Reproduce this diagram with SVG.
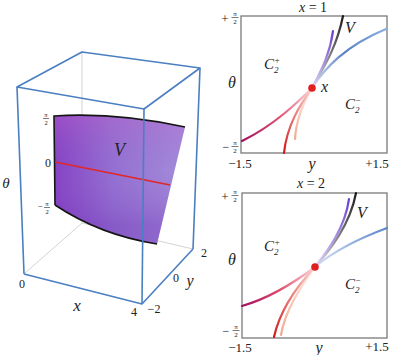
<svg xmlns="http://www.w3.org/2000/svg" width="395" height="355" viewBox="0 0 395 355">
<style>
.t{font-family:"Liberation Serif","DejaVu Serif",serif;fill:#222}
.i{font-style:italic}
.box{stroke:#4a7fc1;stroke-width:1.6;fill:none;stroke-linejoin:round}
.hid{stroke:#c8c8c8;stroke-width:0.8;fill:none}
.frame{stroke:#7a7a7a;stroke-width:1.3;fill:#fff}
.c{fill:none;stroke-width:2.2;stroke-linecap:round}
.fb{stroke:#222;stroke-width:0.6}
</style>
<defs>
<linearGradient id="surf" x1="54" y1="160" x2="185" y2="160" gradientUnits="userSpaceOnUse">
<stop offset="0" stop-color="#8642c4"/>
<stop offset="0.45" stop-color="#9470d2"/>
<stop offset="1" stop-color="#a48cda"/>
</linearGradient>
<linearGradient id="surf2" x1="54" y1="116" x2="54" y2="225" gradientUnits="userSpaceOnUse">
<stop offset="0" stop-color="#c060c8" stop-opacity="0.35"/>
<stop offset="0.5" stop-color="#9060c8" stop-opacity="0"/>
<stop offset="1" stop-color="#6a28b0" stop-opacity="0.3"/>
</linearGradient>
<linearGradient id="gk1" x1="312" y1="88" x2="343" y2="16" gradientUnits="userSpaceOnUse"><stop offset="0" stop-color="#d8d8d8"/><stop offset="1" stop-color="#1a1a1a"/></linearGradient>
<linearGradient id="gp1" x1="312" y1="88" x2="333" y2="31" gradientUnits="userSpaceOnUse"><stop offset="0" stop-color="#e0d8f4"/><stop offset="1" stop-color="#6a3fd0"/></linearGradient>
<linearGradient id="gb1" x1="312" y1="88" x2="386" y2="29" gradientUnits="userSpaceOnUse"><stop offset="0" stop-color="#dce6f6"/><stop offset="0.5" stop-color="#5a80c8"/><stop offset="1" stop-color="#8aaee0"/></linearGradient>
<linearGradient id="gc1" x1="312" y1="88" x2="242" y2="141" gradientUnits="userSpaceOnUse"><stop offset="0" stop-color="#fad8dc"/><stop offset="0.5" stop-color="#e05070"/><stop offset="1" stop-color="#a01060"/></linearGradient>
<linearGradient id="gr1" x1="312" y1="88" x2="284" y2="153" gradientUnits="userSpaceOnUse"><stop offset="0" stop-color="#fcd4d0"/><stop offset="1" stop-color="#d01818"/></linearGradient>
<linearGradient id="gs1" x1="312" y1="88" x2="295" y2="139" gradientUnits="userSpaceOnUse"><stop offset="0" stop-color="#fff0ea"/><stop offset="1" stop-color="#f4a890"/></linearGradient>
<linearGradient id="gk2" x1="315" y1="267" x2="356" y2="193" gradientUnits="userSpaceOnUse"><stop offset="0" stop-color="#d8d8d8"/><stop offset="1" stop-color="#1a1a1a"/></linearGradient>
<linearGradient id="gp2" x1="315" y1="267" x2="349" y2="199" gradientUnits="userSpaceOnUse"><stop offset="0" stop-color="#e0d8f4"/><stop offset="1" stop-color="#6a3fd0"/></linearGradient>
<linearGradient id="gb2" x1="315" y1="267" x2="387" y2="228" gradientUnits="userSpaceOnUse"><stop offset="0" stop-color="#dce6f6"/><stop offset="1" stop-color="#5a86cc"/></linearGradient>
<linearGradient id="gc2" x1="315" y1="267" x2="242" y2="306" gradientUnits="userSpaceOnUse"><stop offset="0" stop-color="#fad8dc"/><stop offset="0.5" stop-color="#e05070"/><stop offset="1" stop-color="#a01060"/></linearGradient>
<linearGradient id="gr2" x1="315" y1="267" x2="274" y2="337" gradientUnits="userSpaceOnUse"><stop offset="0" stop-color="#fcd4d0"/><stop offset="1" stop-color="#d01818"/></linearGradient>
<linearGradient id="gs2" x1="315" y1="267" x2="281" y2="335" gradientUnits="userSpaceOnUse"><stop offset="0" stop-color="#fff0ea"/><stop offset="1" stop-color="#f4a890"/></linearGradient>
</defs>

<g id="box3d">
<line class="hid" x1="82" y1="52" x2="82" y2="223"/>
<line class="hid" x1="25" y1="273" x2="82" y2="223"/>
<line class="hid" x1="82" y1="223" x2="193" y2="249"/>
<g id="surface">
<path d="M54,116 Q115,112 185,127 L157,244 Q100,235 55,205 Z" fill="url(#surf)"/>
<path d="M54,116 Q115,112 185,127 L157,244 Q100,235 55,205 Z" fill="url(#surf2)"/>
<path d="M55,205 L54,116 Q115,112 185,127" fill="none" stroke="#151515" stroke-width="1.6"/>
<path d="M55,205 Q100,235 157,244" fill="none" stroke="#151515" stroke-width="1.6"/>
<line x1="55" y1="162" x2="170" y2="185" stroke="#e02828" stroke-width="1.6"/>
<text class="t i" x="114" y="156" font-size="18">V</text>
</g>
<polygon class="box" points="17,87 82,52 200,68 144,109"/>
<line class="box" x1="17" y1="87" x2="24" y2="274"/>
<line class="box" x1="144" y1="109" x2="142" y2="304"/>
<line class="box" x1="200" y1="68" x2="193" y2="249"/>
<polyline class="box" points="24,274 142,304 193,249"/>
<text class="t" x="46" y="117" font-size="6.5" text-anchor="middle">π</text>
<line class="fb" x1="43" y1="118.5" x2="49" y2="118.5"/>
<text class="t" x="46" y="124.5" font-size="6.5" text-anchor="middle">2</text>
<text class="t" x="48" y="167" font-size="12" text-anchor="middle">0</text>
<text class="t" x="40" y="209" font-size="9" text-anchor="middle">−</text>
<text class="t" x="47" y="206" font-size="6.5" text-anchor="middle">π</text>
<line class="fb" x1="44" y1="207.5" x2="50" y2="207.5"/>
<text class="t" x="47" y="213.5" font-size="6.5" text-anchor="middle">2</text>
<text class="t i" x="6" y="188" font-size="15" text-anchor="middle">θ</text>
<text class="t" x="22" y="288" font-size="12" text-anchor="middle">0</text>
<text class="t i" x="77" y="311" font-size="17" text-anchor="middle">x</text>
<text class="t" x="134" y="316" font-size="12" text-anchor="middle">4</text>
<text class="t" x="154" y="313" font-size="12" text-anchor="middle">−2</text>
<text class="t" x="176" y="282" font-size="12" text-anchor="middle">0</text>
<text class="t i" x="190" y="286" font-size="16" text-anchor="middle">y</text>
<text class="t" x="204" y="257" font-size="12" text-anchor="middle">2</text>
</g>

<g id="panel1">
<rect class="frame" x="241" y="16" width="146" height="137"/>
<text class="t" x="313" y="12" font-size="14" text-anchor="middle"><tspan font-style="italic">x</tspan> = 1</text>
<text class="t" x="225" y="23" font-size="13" text-anchor="middle">+</text>
<text class="t" x="235" y="16" font-size="7" text-anchor="middle">π</text>
<line class="fb" x1="231.5" y1="17.5" x2="238.5" y2="17.5"/>
<text class="t" x="235" y="24" font-size="7" text-anchor="middle">2</text>
<text class="t" x="226" y="151" font-size="12" text-anchor="middle">−</text>
<text class="t" x="235" y="145" font-size="7" text-anchor="middle">π</text>
<line class="fb" x1="231.5" y1="146.5" x2="238.5" y2="146.5"/>
<text class="t" x="235" y="153" font-size="7" text-anchor="middle">2</text>
<text class="t" x="240" y="168" font-size="13" text-anchor="middle">−1.5</text>
<text class="t" x="377" y="168" font-size="13" text-anchor="middle">+1.5</text>
<text class="t i" x="312" y="169" font-size="16" text-anchor="middle">y</text>
<text class="t i" x="232" y="88" font-size="16" text-anchor="middle">θ</text>
<text class="t i" x="264" y="69" font-size="15">C<tspan font-size="9" dy="-6">+</tspan><tspan font-size="9" dx="-6" dy="10">2</tspan></text>
<text class="t i" x="345" y="109" font-size="15">C<tspan font-size="9" dy="-6">−</tspan><tspan font-size="9" dx="-6" dy="10">2</tspan></text>
<text class="t i" x="345" y="33" font-size="16">V</text>
<text class="t i" x="321" y="92" font-size="16">x</text>
</g>

<g id="panel2">
<rect class="frame" x="242" y="193" width="145" height="145"/>
<text class="t" x="311" y="188" font-size="14" text-anchor="middle"><tspan font-style="italic">x</tspan> = 2</text>
<text class="t" x="225" y="201" font-size="13" text-anchor="middle">+</text>
<text class="t" x="235" y="194" font-size="7" text-anchor="middle">π</text>
<line class="fb" x1="231.5" y1="195.5" x2="238.5" y2="195.5"/>
<text class="t" x="235" y="202" font-size="7" text-anchor="middle">2</text>
<text class="t" x="226" y="335" font-size="12" text-anchor="middle">−</text>
<text class="t" x="236" y="329" font-size="7" text-anchor="middle">π</text>
<line class="fb" x1="232.5" y1="330.5" x2="239.5" y2="330.5"/>
<text class="t" x="236" y="337" font-size="7" text-anchor="middle">2</text>
<text class="t" x="240" y="352" font-size="13" text-anchor="middle">−1.5</text>
<text class="t" x="377" y="351" font-size="13" text-anchor="middle">+1.5</text>
<text class="t i" x="319" y="353" font-size="16" text-anchor="middle">y</text>
<text class="t i" x="232" y="265" font-size="16" text-anchor="middle">θ</text>
<text class="t i" x="264" y="251" font-size="15">C<tspan font-size="9" dy="-6">+</tspan><tspan font-size="9" dx="-6" dy="10">2</tspan></text>
<text class="t i" x="345" y="289" font-size="15">C<tspan font-size="9" dy="-6">−</tspan><tspan font-size="9" dx="-6" dy="10">2</tspan></text>
<text class="t i" x="357" y="218" font-size="16">V</text>
</g>

<g id="connectors">
<path class="c" stroke="url(#gb1)" d="M312,88 C325,68 345,46 386,29"/>
<path class="c" stroke="url(#gk1)" d="M312,88 C322,70 336,50 343,16"/>
<path class="c" stroke="url(#gp1)" d="M312,88 C320,72 330,55 333,31"/>
<path class="c" stroke="url(#gc1)" d="M312,88 C300,100 275,125 242,141"/>
<path class="c" stroke="url(#gs1)" d="M312,88 C305,100 296,120 295,139"/>
<path class="c" stroke="url(#gr1)" d="M312,88 C300,105 287,125 284,153"/>
<circle cx="312" cy="88" r="3.8" fill="#e02020"/>
<path class="c" stroke="url(#gb2)" d="M315,267 C335,250 360,238 387,228"/>
<path class="c" stroke="url(#gk2)" d="M315,267 C330,250 350,225 356,193"/>
<path class="c" stroke="url(#gp2)" d="M315,267 C328,250 345,228 349,199"/>
<path class="c" stroke="url(#gc2)" d="M315,267 C295,282 270,298 242,306"/>
<path class="c" stroke="url(#gs2)" d="M315,267 C302,285 285,310 281,335"/>
<path class="c" stroke="url(#gr2)" d="M315,267 C298,285 280,310 274,337"/>
<circle cx="315" cy="267" r="3.8" fill="#e02020"/>
</g>
</svg>
